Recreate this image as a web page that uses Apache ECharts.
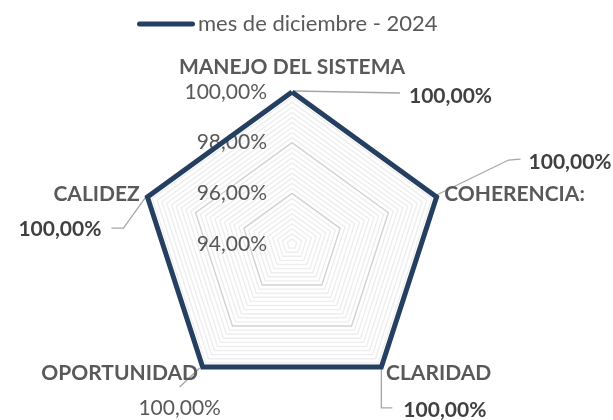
<!DOCTYPE html>
<html><head><meta charset="utf-8">
<script src="https://cdn.jsdelivr.net/npm/echarts@6/dist/echarts.min.js"></script>
<style>html,body{margin:0;padding:0;background:#fff}#c{width:613px;height:420px}</style>
</head><body><div id="c"></div>
<script>
// ---- data ----
const seriesName = 'mes de diciembre - 2024';
const indicators = ['MANEJO DEL SISTEMA', 'COHERENCIA:', 'CLARIDAD', 'OPORTUNIDAD', 'CALIDEZ'];
const values = [100, 100, 100, 100, 100];
const axisMin = 94;
const axisMax = 100;
const majorStep = 2;
const minorStep = 0.2;
const tickLabels = ['94,00%', '96,00%', '98,00%', '100,00%'];

// ---- styles ----
const FONT = 'Lato, "Open Sans", sans-serif';
const NAVY = '#243f60';
const GRAY_TXT = '#595959';
const DARK_TXT = '#404040';
const FS = 21;

const fmtPct = v => v.toFixed(2).replace('.', ',') + '%';

// the reference runs clockwise; ECharts radar runs counter-clockwise, so reverse the order after the first axis
const order = [0].concat(indicators.slice(1).map((_, i) => indicators.length - 1 - i));

const perMajor = Math.round(majorStep / minorStep);
const splitColors = [];
for (let i = 0; i < perMajor; i++) splitColors.push(i === 0 ? '#d2d2d2' : '#eeeeee');

const chart = echarts.init(document.getElementById('c'), null, {renderer: 'canvas'});
chart.setOption({
  animation: false,
  backgroundColor: '#fff',
  legend: {
    data: [seriesName],
    left: 132, top: 8,
    itemWidth: 58, itemHeight: 5, itemGap: 10,
    icon: 'path://M2.5,0 L55.5,0 A2.5,2.5 0 0 1 55.5,5 L2.5,5 A2.5,2.5 0 0 1 2.5,0 Z',
    textStyle: {color: GRAY_TXT, fontSize: 22, fontFamily: FONT, padding: [0, 0, 0, -2]}
  },
  radar: {
    center: [292, 244],
    radius: 152,
    startAngle: 90,
    shape: 'polygon',
    splitNumber: Math.round((axisMax - axisMin) / minorStep),
    axisName: {color: GRAY_TXT, fontWeight: 'bold', fontSize: FS, fontFamily: FONT},
    nameGap: 8,
    indicator: order.map((k, i) => ({
      name: indicators[k], min: axisMin, max: axisMax,
      nameGap: i === 0 ? 14 : 8,
      axisLabel: {show: i === 0}
    })),
    axisLine: {show: false},
    axisTick: {show: false},
    axisLabel: {
      show: false, color: GRAY_TXT, fontSize: FS, fontFamily: FONT, margin: 25,
      formatter: function (v) {
        const k = (v - axisMin) / majorStep;
        if (Math.abs(k - Math.round(k)) < 1e-6) return tickLabels[Math.round(k)] || '';
        return '';
      }
    },
    splitLine: {lineStyle: {color: splitColors, width: 1.4}},
    splitArea: {show: false}
  },
  series: [{
    type: 'radar',
    name: seriesName,
    symbol: 'none',
    lineStyle: {color: NAVY, width: 5, join: 'miter'},
    itemStyle: {color: NAVY},
    data: [{value: order.map(k => values[k]), name: seriesName}]
  }]
});

// data labels with leader lines, anchored at the library-computed vertices (keyed by original index)
const labelCfg = [
  {bold: true,  line: [[2, -1], [108, 1]], at: [117, 4], align: 'left'},
  {bold: true,  line: [[0, -2], [72, -37], [84, -38]], at: [92, -35], align: 'left'},
  {bold: true,  line: [[0, 1], [0, 41], [11, 41]], at: [22, 43], align: 'left'},
  {bold: false, line: [[-3, 1], [-23, 20]], at: [-23, 41], align: 'center'},
  {bold: true,  line: [[-1, -1], [-24, 31], [-36, 31]], at: [-46, 32], align: 'right'}
];
const cs = chart.getModel().getComponent('radar').coordinateSystem;
const gfx = [];
order.forEach((k, i) => {
  const v = values[k];
  const p = cs.dataToPoint(v, i);
  const c = labelCfg[k];
  gfx.push({
    type: 'polyline', silent: true,
    shape: {points: c.line.map(d => [p[0] + d[0], p[1] + d[1]])},
    style: {stroke: '#a6a6a6', lineWidth: 1.3, fill: null}
  });
  gfx.push({
    type: 'text', silent: true,
    x: p[0] + c.at[0], y: p[1] + c.at[1],
    style: {
      text: fmtPct(v), fill: c.bold ? DARK_TXT : GRAY_TXT,
      font: (c.bold ? 'bold ' : '') + FS + 'px ' + FONT,
      textAlign: c.align, textVerticalAlign: 'middle'
    }
  });
});
chart.setOption({graphic: gfx});
</script>
</body></html>
